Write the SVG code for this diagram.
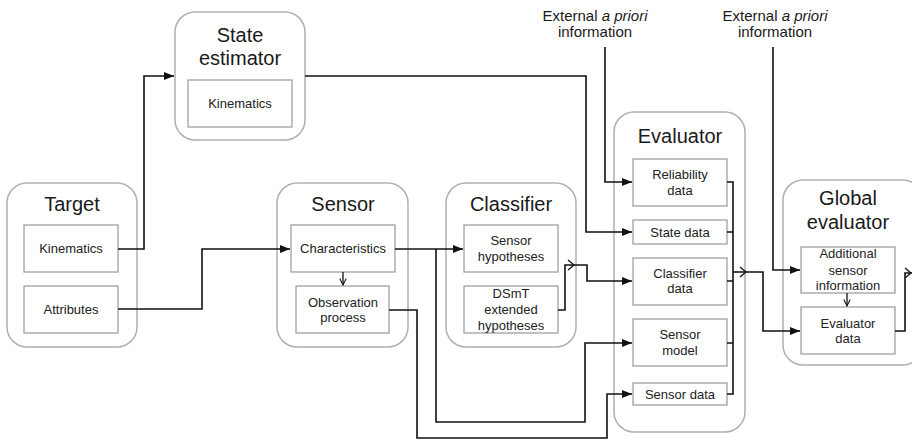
<svg xmlns="http://www.w3.org/2000/svg" width="912" height="441" viewBox="0 0 912 441">
<defs>
<marker id="arr" viewBox="0 0 10 10" refX="10" refY="5" markerWidth="10" markerHeight="10" markerUnits="userSpaceOnUse" orient="auto">
<path d="M0,1 L10,5 L0,9 Z" fill="#111"/>
</marker>
<marker id="open" viewBox="0 0 10 10" refX="9" refY="5" markerWidth="8" markerHeight="8" markerUnits="userSpaceOnUse" orient="auto">
<path d="M1,1 L9,5 L1,9" fill="none" stroke="#111" stroke-width="1.3"/>
</marker>
</defs>
<style>
.outer{fill:#fff;stroke:#b0b0b0;stroke-width:1.5}
.inner{fill:#fff;stroke:#a0a0a0;stroke-width:1.3}
.title{font-family:"Liberation Sans",Arial,sans-serif;font-size:20px;fill:#1a1a1a;text-anchor:middle}
.t{font-family:"Liberation Sans",Arial,sans-serif;font-size:13px;fill:#222;text-anchor:middle}
.lab{font-family:"Liberation Sans",Arial,sans-serif;font-size:15px;fill:#1a1a1a;text-anchor:middle}
.c{fill:none;stroke:#111;stroke-width:1.6}
.ch{fill:none;stroke:#111;stroke-width:1.3}
</style>
<rect width="912" height="441" fill="#fff"/>

<g id="state-estimator">
<rect class="outer" x="175" y="12" width="130" height="128" rx="20"/>
<text class="title" x="240" y="42">State</text>
<text class="title" x="240" y="65">estimator</text>
<rect class="inner" x="188" y="80" width="104" height="47"/>
<text class="t" x="240" y="108">Kinematics</text>
</g>

<g id="target">
<rect class="outer" x="7" y="183" width="130" height="164" rx="20"/>
<text class="title" x="72" y="211">Target</text>
<rect class="inner" x="24" y="225" width="94" height="47"/>
<text class="t" x="71" y="253">Kinematics</text>
<rect class="inner" x="24" y="286" width="94" height="47"/>
<text class="t" x="71" y="314">Attributes</text>
</g>

<g id="sensor">
<rect class="outer" x="277" y="183" width="131" height="164" rx="20"/>
<text class="title" x="343" y="211">Sensor</text>
<rect class="inner" x="291" y="225" width="104" height="47"/>
<text class="t" x="343" y="253">Characteristics</text>
<rect class="inner" x="296" y="286" width="93" height="47"/>
<text class="t" x="343" y="307">Observation</text>
<text class="t" x="343" y="322">process</text>
</g>

<g id="classifier">
<rect class="outer" x="446" y="183" width="130" height="164" rx="20"/>
<text class="title" x="511" y="211">Classifier</text>
<rect class="inner" x="464" y="225" width="94" height="47"/>
<text class="t" x="511" y="245">Sensor</text>
<text class="t" x="511" y="261">hypotheses</text>
<rect class="inner" x="464" y="286" width="94" height="47"/>
<text class="t" x="511" y="298">DSmT</text>
<text class="t" x="511" y="314">extended</text>
<text class="t" x="511" y="330">hypotheses</text>
</g>

<g id="evaluator">
<rect class="outer" x="614" y="112" width="131" height="320" rx="20"/>
<text class="title" x="680" y="143">Evaluator</text>
<rect class="inner" x="633" y="159" width="94" height="47"/>
<text class="t" x="680" y="179">Reliability</text>
<text class="t" x="680" y="195">data</text>
<rect class="inner" x="633" y="220" width="94" height="24"/>
<text class="t" x="680" y="237">State data</text>
<rect class="inner" x="633" y="258" width="94" height="47"/>
<text class="t" x="680" y="278">Classifier</text>
<text class="t" x="680" y="293">data</text>
<rect class="inner" x="633" y="319" width="94" height="47"/>
<text class="t" x="680" y="339">Sensor</text>
<text class="t" x="680" y="355">model</text>
<rect class="inner" x="633" y="383" width="94" height="22"/>
<text class="t" x="680" y="399">Sensor data</text>
</g>

<g id="global-evaluator">
<rect class="outer" x="783" y="180" width="140" height="185" rx="20"/>
<text class="title" x="848" y="205">Global</text>
<text class="title" x="848" y="229">evaluator</text>
<rect class="inner" x="801" y="247" width="94" height="46"/>
<text class="t" x="848" y="258">Additional</text>
<text class="t" x="848" y="275">sensor</text>
<text class="t" x="848" y="290">information</text>
<rect class="inner" x="801" y="307" width="94" height="47"/>
<text class="t" x="848" y="328">Evaluator</text>
<text class="t" x="848" y="343">data</text>
</g>

<g id="labels">
<text class="lab" x="595" y="21">External <tspan font-style="italic">a priori</tspan></text>
<text class="lab" x="595" y="37">information</text>
<text class="lab" x="775" y="21">External <tspan font-style="italic">a priori</tspan></text>
<text class="lab" x="775" y="37">information</text>
</g>

<g id="connectors">
<path class="c" d="M118,249 H144 V76 H174" marker-end="url(#arr)"/>
<path class="c" d="M118,309 H202 V249 H290" marker-end="url(#arr)"/>
<path class="c" d="M395,249 H463" marker-end="url(#arr)"/>
<path class="c" d="M436,249 V422 H585 V343 H632" marker-end="url(#arr)"/>
<path class="c" d="M389,310 H417 V438 H607 V394 H632" marker-end="url(#arr)"/>
<path class="ch" d="M343,272 V285" marker-end="url(#open)"/>
<path class="ch" d="M847,293 V306" marker-end="url(#open)"/>
<path class="c" d="M305,76 H586 V232 H632" marker-end="url(#arr)"/>
<path class="c" d="M558,310 H565 V265 H587 V281 H632" marker-end="url(#arr)"/>
<path class="ch" d="M568,260 L574,265 L568,270"/>
<path class="c" d="M605,47 V182 H632" marker-end="url(#arr)"/>
<path class="c" d="M773,47 V270 H800" marker-end="url(#arr)"/>
<path class="c" d="M727,182 H733 V394 H727"/>
<path class="c" d="M727,232 H733 M727,281 H733 M727,343 H733"/>
<path class="c" d="M733,272 H763 V331 H800" marker-end="url(#arr)"/>
<path class="ch" d="M740,267 L746,272 L740,277"/>
<path class="c" d="M895,331 H905 V273 H912"/>
<path class="ch" d="M905,268 L911,273 L905,278"/>
</g>
</svg>
